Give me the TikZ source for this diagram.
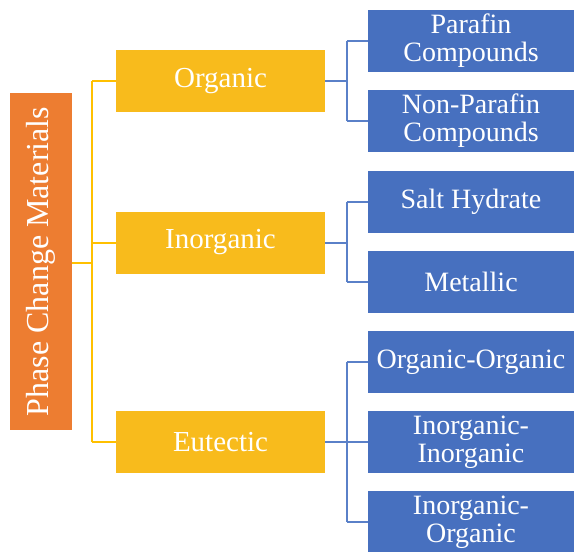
\documentclass[tikz,border=0pt]{standalone}
\usepackage{fontspec}
\setmainfont{Liberation Serif}
\usepackage{graphicx}
\definecolor{pcmorange}{HTML}{ED7D31}
\definecolor{grpyellow}{HTML}{F8BB1C}
\definecolor{leafblue}{HTML}{4770BF}
\definecolor{ylink}{HTML}{FFC000}
\definecolor{blink}{HTML}{5A80C8}
\begin{document}
\begin{tikzpicture}[x=1pt,y=-1pt,
  rootbox/.style={fill=pcmorange,draw=none,text=white,minimum width=62pt,minimum height=337pt,inner sep=0pt,font=\fontsize{32}{34}\selectfont},
  grpbox/.style={fill=grpyellow,draw=none,text=white,minimum width=209pt,minimum height=62pt,inner sep=0pt,font=\fontsize{29}{31}\selectfont},
  leafbox/.style={fill=leafblue,draw=none,text=white,minimum width=206pt,minimum height=62pt,inner sep=0pt,align=center,font=\fontsize{28}{28}\selectfont},
  ylin/.style={draw=ylink,line width=2pt},
  blin/.style={draw=blink,line width=2pt}]
\useasboundingbox (0,0) rectangle (575,551);

% root
\node[rootbox] (pcm) at (41,261.5) {\rotatebox{90}{Phase Change Materials}};

% groups
\node[grpbox] (org) at (220.5,81) {Organic};
\node[grpbox] (inorg) at (220.5,242.5) {Inorganic};
\node[grpbox] (eut) at (220.5,442) {Eutectic};

% leaves
\node[leafbox] (par) at (471,41) {Parafin\\Compounds};
\node[leafbox] (npar) at (471,120.5) {Non-Parafin\\Compounds};
\node[leafbox] (salt) at (471,202) {Salt Hydrate};
\node[leafbox] (met) at (471,281.5) {Metallic};
\node[leafbox] (oo) at (471,362) {Organic-Organic};
\node[leafbox] (ii) at (471,442) {Inorganic-\\Inorganic};
\node[leafbox] (io) at (471,522) {Inorganic-\\Organic};

% root to groups
\coordinate (jr) at (92,263);
\draw[ylin] (pcm.east |- jr) -- (jr);
\draw[ylin] (jr |- org) -- (jr |- eut);
\draw[ylin] (jr |- org) -- (org.west);
\draw[ylin] (jr |- inorg) -- (inorg.west);
\draw[ylin] (jr |- eut) -- (eut.west);

% groups to leaves
\coordinate (jb) at (347,0);
\draw[blin] (org.east) -- (jb |- org);
\draw[blin] (jb |- par) -- (jb |- npar);
\draw[blin] (jb |- par) -- (par.west);
\draw[blin] (jb |- npar) -- (npar.west);

\draw[blin] (inorg.east) -- (jb |- inorg);
\draw[blin] (jb |- salt) -- (jb |- met);
\draw[blin] (jb |- salt) -- (salt.west);
\draw[blin] (jb |- met) -- (met.west);

\draw[blin] (eut.east) -- (ii.west);
\draw[blin] (jb |- oo) -- (jb |- io);
\draw[blin] (jb |- oo) -- (oo.west);
\draw[blin] (jb |- io) -- (io.west);
\end{tikzpicture}
\end{document}
